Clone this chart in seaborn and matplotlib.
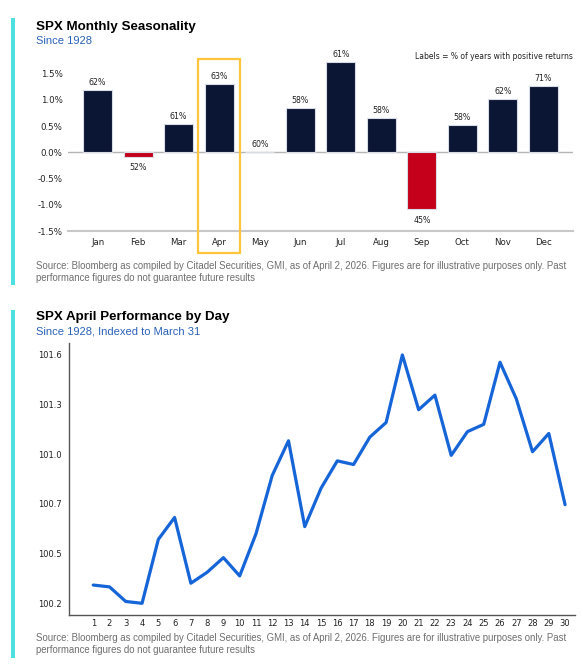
import numpy as np
import pandas as pd
import seaborn as sns
import matplotlib.pyplot as plt
from matplotlib.patches import Rectangle
from matplotlib.ticker import FormatStrFormatter

# monthly seasonality (avg % return) and share of positive years
months = ['Jan', 'Feb', 'Mar', 'Apr', 'May', 'Jun', 'Jul', 'Aug', 'Sep', 'Oct', 'Nov', 'Dec']
avg_return = [1.18, -0.08, 0.53, 1.30, 0.0, 0.84, 1.71, 0.66, -1.08, 0.52, 1.01, 1.26]
pct_positive = ['62%', '52%', '61%', '63%', '60%', '58%', '61%', '58%', '45%', '58%', '62%', '71%']

# april path, indexed to march 31
days = list(range(1, 31))
april_index = [100.30, 100.29, 100.21, 100.20, 100.55, 100.67, 100.31, 100.37, 100.45, 100.35,
               100.58, 100.90, 101.09, 100.62, 100.83, 100.98, 100.96, 101.11, 101.19, 101.56,
               101.26, 101.34, 101.01, 101.14, 101.18, 101.52, 101.32, 101.03, 101.13, 100.74]

NAVY = '#0b1634'
RED = '#c4001a'
BLUE = '#1565d8'
CYAN = '#4ee0df'
GOLD = '#ffc53d'
GREY_TXT = '#6e6e6e'
SOURCE = ('Source: Bloomberg as compiled by Citadel Securities, GMI, as of April 2, 2026. '
          'Figures are for illustrative purposes only. Past\nperformance figures do not guarantee future results')

sns.set_style('white')
plt.rcParams['font.family'] = ['DejaVu Sans']

W, H = 583, 667
fig = plt.figure(figsize=(W / 100, H / 100), dpi=100)

def px_rect(left, top, right, bottom):
    return [left / W, 1 - bottom / H, (right - left) / W, (bottom - top) / H]

def fy(y):
    return 1 - y / H

# side accents
for top, bottom in [(18, 285), (310, 658)]:
    fig.add_artist(Rectangle((11 / W, fy(bottom)), 4 / W, (bottom - top) / H,
                             transform=fig.transFigure, color=CYAN, lw=0))

# titles / footers
title_kw = dict(family='Liberation Sans', va='center', ha='left')
fig.text(36 / W, fy(27), 'SPX Monthly Seasonality', fontsize=9.6, weight='bold', color='black', **title_kw)
fig.text(36 / W, fy(41), 'Since 1928', fontsize=8, color='#2a62b8', **title_kw)
fig.text(36 / W, fy(272), SOURCE, fontsize=6.9, color=GREY_TXT, linespacing=1.3, **title_kw)
fig.text(36 / W, fy(317), 'SPX April Performance by Day', fontsize=9.6, weight='bold', color='black', **title_kw)
fig.text(36 / W, fy(332), 'Since 1928, Indexed to March 31', fontsize=8, color='#2a62b8', **title_kw)
fig.text(36 / W, fy(644), SOURCE, fontsize=6.9, color=GREY_TXT, linespacing=1.3, **title_kw)

# ---- monthly bars
ax1 = fig.add_axes(px_rect(68, 52.4, 573, 231.2))
df = pd.DataFrame({'month': months, 'ret': avg_return})
bar_colors = [NAVY if v >= 0 else RED for v in avg_return]
sns.barplot(data=df, x='month', y='ret', hue='month', palette=bar_colors, legend=False,
            saturation=1, width=0.71, edgecolor='#d8dce6', linewidth=0.8, ax=ax1)
ax1.set_xlim(-0.73, 11.73)
ax1.set_ylim(-1.5, 1.9)
ax1.set_yticks([-1.5, -1.0, -0.5, 0.0, 0.5, 1.0, 1.5])
ax1.set_yticklabels([f'{t:.1f}%' for t in [-1.5, -1.0, -0.5, 0.0, 0.5, 1.0, 1.5]])
ax1.axhline(0, color='#b5b5b5', lw=1, zorder=0)
for s in ['top', 'right', 'left']:
    ax1.spines[s].set_visible(False)
ax1.spines['bottom'].set_color('#c8c8c8')
ax1.spines['bottom'].set_linewidth(1.5)
ax1.tick_params(length=0, labelsize=6.2, colors='#222222', pad=5)
ax1.tick_params(axis='y', pad=4)
ax1.set_xlabel('')
ax1.set_ylabel('')

for i, (v, lab) in enumerate(zip(avg_return, pct_positive)):
    if v >= 0:
        ax1.annotate(lab, (i, v), xytext=(0, 2.2), textcoords='offset points',
                     ha='center', va='bottom', fontsize=5.7, color='#222222')
    else:
        ax1.annotate(lab, (i, v), xytext=(0, -5), textcoords='offset points',
                     ha='center', va='top', fontsize=5.7, color='#222222')

ax1.text(1.0, 1.83, 'Labels = % of years with positive returns', transform=ax1.get_yaxis_transform(),
         ha='right', va='center', fontsize=5.5, color='#222222')

# highlight april
apr = months.index('Apr')
ax1.add_patch(Rectangle((apr - 0.52, -1.92), 1.04, 1.77 + 1.92, fill=False,
                        edgecolor=GOLD, lw=1.6, clip_on=False, zorder=5))

# ---- april by day
ax2 = fig.add_axes(px_rect(69, 342.7, 575, 615))
sns.lineplot(x=days, y=april_index, color=BLUE, lw=2.3, ax=ax2)
ax2.set_xlim(-0.49, 30.61)
ax2.set_ylim(100.136, 101.627)
ax2.set_xticks(days)
ax2.set_yticks(np.linspace(100.2, 101.56, 6))
ax2.yaxis.set_major_formatter(FormatStrFormatter('%.1f'))
for s in ['top', 'right']:
    ax2.spines[s].set_visible(False)
for s in ['left', 'bottom']:
    ax2.spines[s].set_color('#555555')
    ax2.spines[s].set_linewidth(1.0)
ax2.tick_params(length=0, labelsize=6, colors='#222222', pad=3)
ax2.tick_params(axis='y', pad=5)

fig.savefig('out.png', dpi=100)
